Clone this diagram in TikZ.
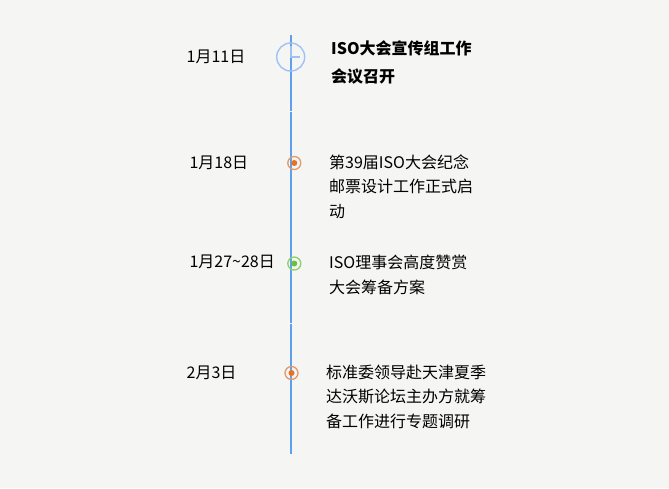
\documentclass[tikz,border=0pt]{standalone}
\usepackage{fontspec}
\setmainfont{Noto Sans CJK SC}
\definecolor{bg}{HTML}{F5F5F3}
\definecolor{lineblue}{HTML}{5EA0EF}
\definecolor{clockblue}{HTML}{9EC3F2}
\definecolor{orstroke}{HTML}{E39A6A}
\definecolor{ordot}{HTML}{E8731F}
\definecolor{grstroke}{HTML}{8FCF6A}
\definecolor{grdot}{HTML}{66C23A}
\begin{document}
\begin{tikzpicture}[x=1pt,y=-1pt,
  datetext/.style={anchor=west,inner sep=0pt,font=\fontsize{16}{18}\selectfont,text=black},
  desc/.style={anchor=north west,inner sep=0pt,align=left,font=\fontsize{16}{24.5}\selectfont,text=black},
  ring/.style={circle,draw,line width=1.3pt,minimum size=13pt,inner sep=0pt},
  dot/.style={circle,fill,minimum size=6pt,inner sep=0pt},
  axis/.style={draw=lineblue,line width=1.9pt}]
\fill[bg] (0,0) rectangle (669,488);
\useasboundingbox (0,0) rectangle (669,488);
% timeline segments
\coordinate (t0) at (290.7,35);
\coordinate (t1) at (290.7,110.5);
\coordinate (t2) at (290.7,111.8);
\coordinate (t3) at (290.7,322.5);
\coordinate (t4) at (290.7,323.8);
\coordinate (t5) at (290.7,454);
\path[axis] (t0) -- (t1);
\path[axis] (t2) -- (t3);
\path[axis] (t4) -- (t5);
% clock marker
\node[circle,draw=clockblue,line width=1.4pt,minimum size=28pt,inner sep=0pt] (m1) at (290.7,57) {};
\coordinate (h1) at (290.7,46);
\coordinate (h2) at (299.5,57);
\draw[clockblue,line width=1.6pt] (h1) -- (m1.center) -- (h2);
% other markers
\node[ring,draw=orstroke] (m2) at (294.3,163) {};
\node[dot,fill=ordot] (d2) at (m2.center) {};
\node[ring,draw=grstroke] (m3) at (294.3,263.5) {};
\node[dot,fill=grdot] (d3) at (m3.center) {};
\node[ring,draw=orstroke] (m4) at (291.5,373) {};
\node[dot,fill=ordot] (d4) at (m4.center) {};
% dates
\node[datetext] (a1) at (186.5,56.5) {1月11日};
\node[datetext] (a2) at (189.3,162.7) {1月18日};
\node[datetext] (a3) at (189.3,262) {1月27\raisebox{0.5pt}{\~{}}28日};
\node[datetext] (a4) at (186.5,373) {2月3日};
% descriptions
\node[desc,font=\fontsize{16}{28}\selectfont\bfseries] (b1) at (331,40) {ISO大会宣传组工作\\会议召开};
\node[desc] (b2) at (329,154.5) {第39届ISO大会纪念\\邮票设计工作正式启\\动};
\node[desc] (b3) at (329,255) {ISO理事会高度赞赏\\大会筹备方案};
\node[desc] (b4) at (326,364.5) {标准委领导赴天津夏季\\达沃斯论坛主办方就筹\\备工作进行专题调研};
\end{tikzpicture}
\end{document}
